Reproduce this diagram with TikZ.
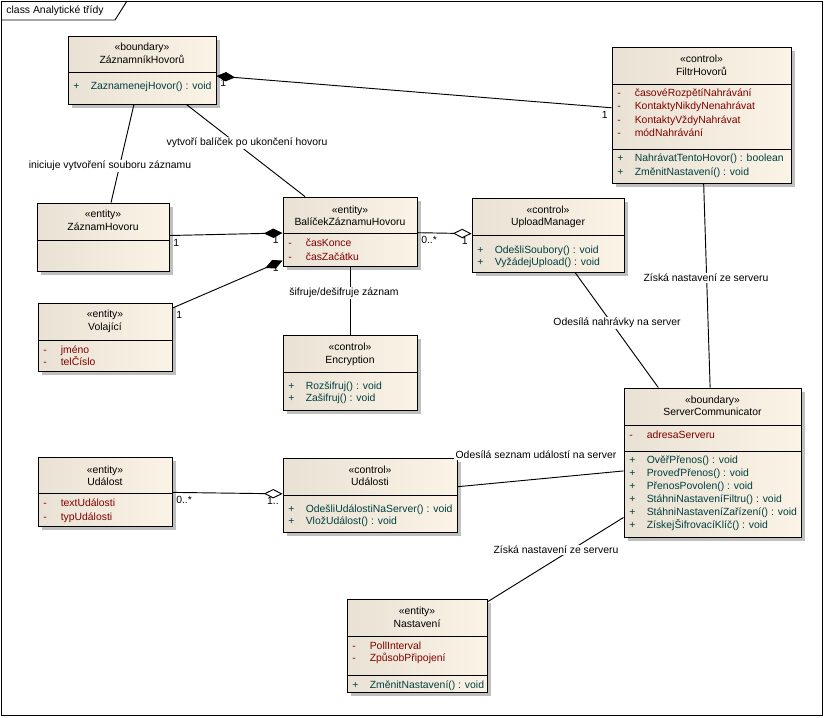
\documentclass[tikz,border=0pt]{standalone}
\usepackage{fontspec}
\setmainfont{Liberation Sans}
\usetikzlibrary{arrows.meta,fit,shadows}
\definecolor{clsleft}{RGB}{233,225,211}
\definecolor{clsright}{RGB}{251,243,230}
\definecolor{attrred}{RGB}{128,0,0}
\definecolor{methteal}{RGB}{0,64,64}

\begin{document}
\begin{tikzpicture}[x=0.75pt, y=-0.75pt, line width=0.7pt, font=\fontsize{7.8}{9}\selectfont]
            \tikzset{
                umlclass/.style={draw, inner sep=0pt, left color=clsleft, right color=clsright,
                    drop shadow={shadow xshift=3pt, shadow yshift=-3pt, fill=black!25, opacity=1}},
                txt/.style={inner sep=0pt, text height=6pt, text depth=2pt},
                attr/.style={txt, anchor=west, text=attrred, execute at begin node={\makebox[13pt][l]{-}}},
                meth/.style={txt, anchor=west, text=methteal, execute at begin node={\makebox[13pt][l]{+}}},
                mult/.style={inner sep=2.5pt},
                assoc/.style={fill=white, inner sep=1pt},
                comp/.style={arrows={Diamond[length=14pt,width=7pt]-}},
                agg/.style={arrows={Diamond[open,fill=white,length=14pt,width=7pt]-}}
            }
            \useasboundingbox (0,0) rectangle (826,718);

            % frame
            \draw (1,1) rectangle (822,715);
            \draw (1,20) -- (115,20) -- (127,1);
            \node[txt, anchor=west] (title) at (6,11) {class Analytické třídy};

            % classes
            \node[umlclass, fit={(68,36) (216,104)}] (zh) {};
            \node[umlclass, fit={(612,47) (791,183)}] (fh) {};
            \node[umlclass, fit={(37,203) (169,271)}] (zhv) {};
            \node[umlclass, fit={(283,197) (417,266)}] (bz) {};
            \node[umlclass, fit={(472,198) (624,272)}] (um) {};
            \node[umlclass, fit={(38,303) (172,371)}] (vol) {};
            \node[umlclass, fit={(283,335) (417,410)}] (enc) {};
            \node[umlclass, fit={(624,388) (801,537)}] (sc) {};
            \node[umlclass, fit={(38,457) (172,526)}] (ud) {};
            \node[umlclass, fit={(283,458) (457,532)}] (uds) {};
            \node[umlclass, fit={(347,599) (487,692)}] (nas) {};

            % ZaznamnikHovoru
            \node[txt] (zh-st) at (142,48) {«boundary»};
            \node[txt] (zh-nm) at (142,61) {ZáznamníkHovorů};
            \draw (68,72) -- (216,72);
            \node[meth] (zh-m1) at (73,87) {ZaznamenejHovor() : void};

            % FiltrHovoru
            \node[txt] (fh-st) at (701.5,60) {«control»};
            \node[txt] (fh-nm) at (701.5,73) {FiltrHovorů};
            \draw (612,84) -- (791,84);
            \node[attr] (fh-a1) at (617,94) {časovéRozpětíNahrávání};
            \node[attr] (fh-a2) at (617,107.3) {KontaktyNikdyNenahrávat};
            \node[attr] (fh-a3) at (617,120.6) {KontaktyVždyNahrávat};
            \node[attr] (fh-a4) at (617,134) {módNahrávání};
            \draw (612,149) -- (791,149);
            \node[meth] (fh-m1) at (617,159.3) {NahrávatTentoHovor() : boolean};
            \node[meth] (fh-m2) at (617,172.6) {ZměnitNastavení() : void};

            % ZaznamHovoru
            \node[txt] (zhv-st) at (103,215) {«entity»};
            \node[txt] (zhv-nm) at (103,228.3) {ZáznamHovoru};
            \draw (37,240.7) -- (169,240.7);

            % BalicekZaznamuHovoru
            \node[txt] (bz-st) at (350,210.5) {«entity»};
            \node[txt] (bz-nm) at (350,223.3) {BalíčekZáznamuHovoru};
            \draw (283,233.7) -- (417,233.7);
            \node[attr] (bz-a1) at (288,244.3) {časKonce};
            \node[attr] (bz-a2) at (288,257.6) {časZačátku};

            % UploadManager
            \node[txt] (um-st) at (548,210.7) {«control»};
            \node[txt] (um-nm) at (548,223.3) {UploadManager};
            \draw (472,235) -- (624,235);
            \node[meth] (um-m1) at (477,250.5) {OdešliSoubory() : void};
            \node[meth] (um-m2) at (477,263) {VyžádejUpload() : void};

            % Volajici
            \node[txt] (vol-st) at (105,315) {«entity»};
            \node[txt] (vol-nm) at (105,328.3) {Volající};
            \draw (38,340.7) -- (172,340.7);
            \node[attr] (vol-a1) at (43,351) {jméno};
            \node[attr] (vol-a2) at (43,363.3) {telČíslo};

            % Encryption
            \node[txt] (enc-st) at (350,348.3) {«control»};
            \node[txt] (enc-nm) at (350,360.7) {Encryption};
            \draw (283,372.3) -- (417,372.3);
            \node[meth] (enc-m1) at (288,386.7) {Rozšifruj() : void};
            \node[meth] (enc-m2) at (288,399.3) {Zašifruj() : void};

            % ServerCommunicator
            \node[txt] (sc-st) at (712.5,400.7) {«boundary»};
            \node[txt] (sc-nm) at (712.5,413.3) {ServerCommunicator};
            \draw (624,425.7) -- (801,425.7);
            \node[attr] (sc-a1) at (629,435.7) {adresaServeru};
            \draw (624,451) -- (801,451);
            \node[meth] (sc-m1) at (629,461) {OvěřPřenos() : void};
            \node[meth] (sc-m2) at (629,474.3) {ProveďPřenos() : void};
            \node[meth] (sc-m3) at (629,487.3) {PřenosPovolen() : void};
            \node[meth] (sc-m4) at (629,500.3) {StáhniNastaveníFiltru() : void};
            \node[meth] (sc-m5) at (629,513.3) {StáhniNastaveníZařízení() : void};
            \node[meth] (sc-m6) at (629,526) {ZískejŠifrovacíKlíč() : void};

            % Udalost
            \node[txt] (ud-st) at (105,470.7) {«entity»};
            \node[txt] (ud-nm) at (105,483.3) {Událost};
            \draw (38,493.3) -- (172,493.3);
            \node[attr] (ud-a1) at (43,504) {textUdálosti};
            \node[attr] (ud-a2) at (43,517.7) {typUdálosti};

            % Udalosti
            \node[txt] (uds-st) at (370,470.7) {«control»};
            \node[txt] (uds-nm) at (370,483.3) {Události};
            \draw (283,495.7) -- (457,495.7);
            \node[meth] (uds-m1) at (288,510) {OdešliUdálostiNaServer() : void};
            \node[meth] (uds-m2) at (288,522.3) {VložUdálost() : void};

            % Nastaveni
            \node[txt] (nas-st) at (417,611.7) {«entity»};
            \node[txt] (nas-nm) at (417,625) {Nastavení};
            \draw (347,636.7) -- (487,636.7);
            \node[attr] (nas-a1) at (352,646.7) {PollInterval};
            \node[attr] (nas-a2) at (352,659.3) {ZpůsobPřipojení};
            \draw (347,675.3) -- (487,675.3);
            \node[meth] (nas-m1) at (352,685.7) {ZměnitNastavení() : void};

            % edges
            \draw[comp] (zh) -- (fh)
                node[mult, pos=0, anchor=north west] (m-zh) {1}
                node[mult, pos=1, anchor=north east] (m-fh) {1};
            \draw (zh) -- (zhv);
            \draw (zh) -- (bz);
            \draw[comp] (bz) -- (zhv)
                node[mult, pos=0, anchor=north east] (m-bz1) {1}
                node[mult, pos=1, anchor=north west] (m-zhv) {1};
            \draw[comp] (bz) -- (vol)
                node[mult, pos=0, anchor=north east] (m-bz2) {1}
                node[mult, pos=1, anchor=north west] (m-vol) {1};
            \draw[agg] (um) -- (bz)
                node[mult, pos=0, anchor=north east] (m-um) {1}
                node[mult, pos=1, anchor=north west] (m-bz3) {0..*};
            \draw (bz) -- (enc);
            \draw (um) -- (sc);
            \draw (fh) -- (sc);
            \draw[agg] (uds) -- (ud)
                node[mult, pos=0, anchor=north east] (m-uds) {1..}
                node[mult, pos=1, anchor=north west] (m-ud) {0..*};
            \draw (uds) -- (sc);
            \draw (nas) -- (sc);

            % edge labels
            \node[assoc] (l-init) at (110,166) {iniciuje vytvoření souboru záznamu};
            \node[assoc] (l-bal) at (247,143) {vytvoří balíček po ukončení hovoru};
            \node[assoc] (l-sif) at (344,293) {šifruje/dešifruje záznam};
            \node[assoc] (l-nahr) at (617,323) {Odesílá nahrávky na server};
            \node[assoc] (l-filtr) at (706,278) {Získá nastavení ze serveru};
            \node[assoc] (l-udal) at (536,455) {Odesílá seznam událostí na server};
            \node[assoc] (l-nast) at (556,550) {Získá nastavení ze serveru};
\end{tikzpicture}
\end{document}
